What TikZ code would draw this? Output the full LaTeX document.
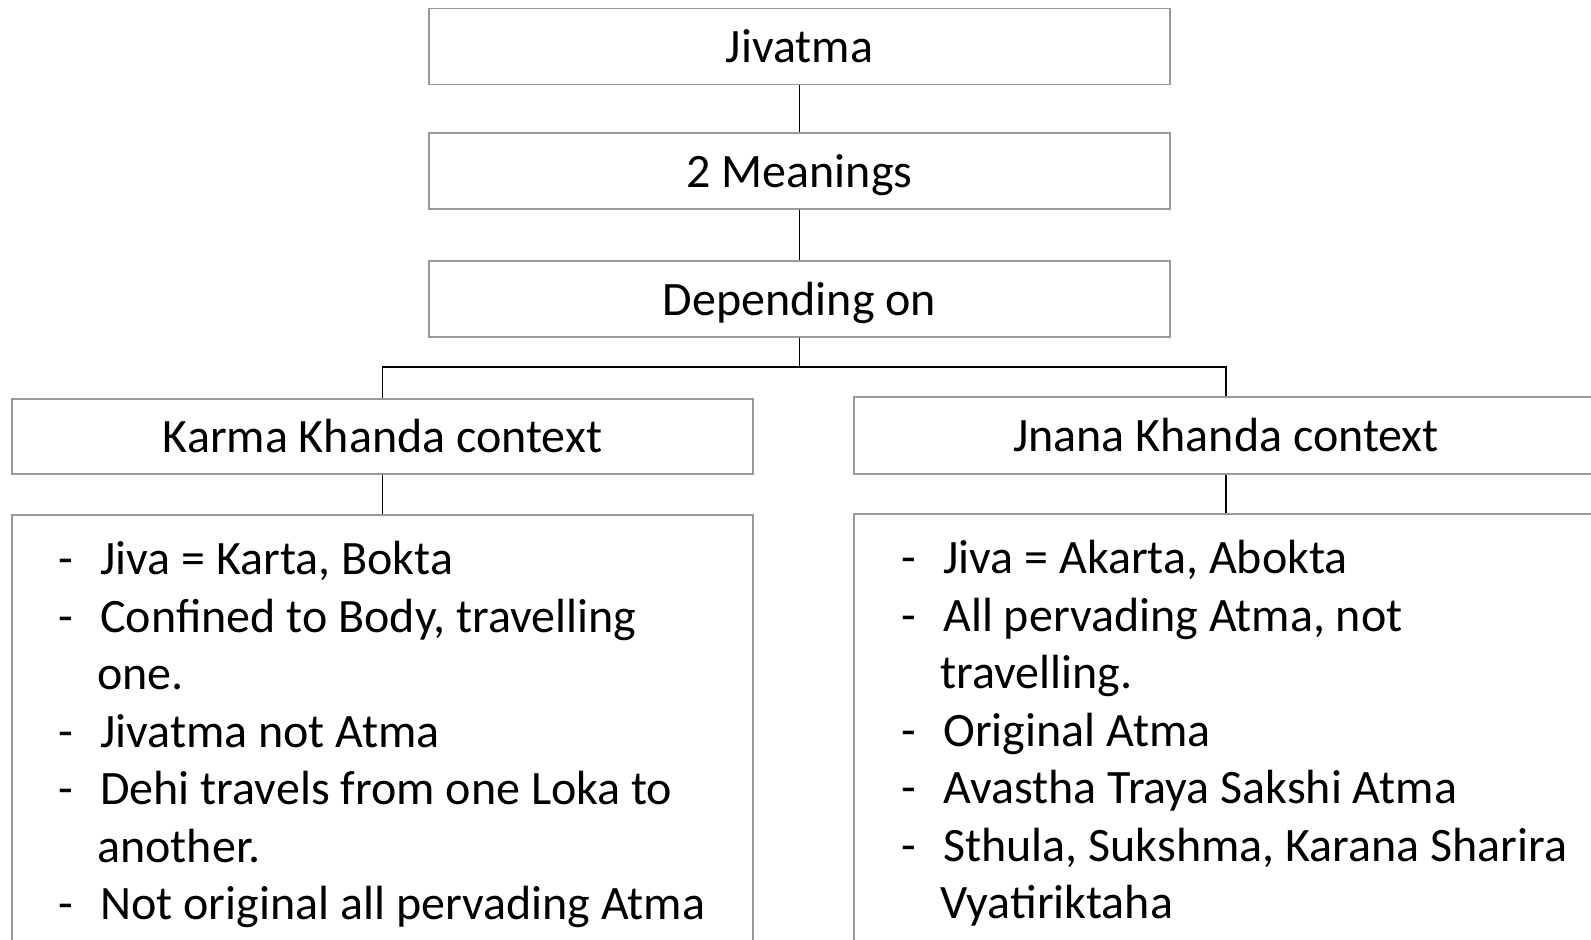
\documentclass[tikz,border=0pt]{standalone}
\usepackage{fontspec}
\setmainfont{Carlito}
\usetikzlibrary{positioning}
\newcommand{\slidefont}{\fontsize{24}{28.75}\selectfont}
\newcommand{\cont}{\hspace{-1.5pt}}

\begin{document}
\begin{tikzpicture}[x=0.5pt,y=-0.5pt,font=\slidefont,
  box/.style={draw=black!40,line width=0.6pt,minimum width=370.5pt,minimum height=38pt,inner sep=0pt,text height=21.5pt,text depth=5pt},
  listbox/.style={draw=black!40,line width=0.6pt,minimum height=222.5pt,inner sep=0pt},
  lst/.style={anchor=north west,inner sep=0pt,align=left},
  link/.style={draw=black,line width=0.65pt}]
\useasboundingbox (0,0) rectangle (1591,940);
\clip (0,0) rectangle (1591,940);
% --- title column ---
\node[box] (jiv) at (799.5,46.5) {Jivatma};
\node[box] (mng) at (799.5,171)  {2 Meanings};
\node[box] (dep) at (799.5,299)  {Depending on};
% --- the two contexts ---
\node[box,minimum height=37.5pt] (karma) at (382.5,436.5) {Karma Khanda context};
\node[box,minimum width=372pt,minimum height=38.5pt] (jnana) at (1226,435.5) {Jnana Khanda context};
% --- lists ---
\node[listbox,minimum width=370.5pt] (klist) at (382.5,737.5) {};
\node[listbox,minimum width=372pt] (jlist) at (1226,736.5) {};
\node[lst] (ktxt) at (58,534) {\begin{tabular}{@{}p{21pt}@{}l@{}}
-& Jiva = Karta, Bokta\\
-& Confined to Body, travelling\\
 & \cont one.\\
-& Jivatma not Atma\\
-& Dehi travels from one Loka to\\
 & \cont another.\\
-& Not original all pervading Atma
\end{tabular}};
\node[lst] (jtxt) at (901,533) {\begin{tabular}{@{}p{21pt}@{}l@{}}
-& Jiva = Akarta, Abokta\\
-& All pervading Atma, not\\
 & \cont travelling.\\
-& Original Atma\\
-& Avastha Traya Sakshi Atma\\
-& Sthula, Sukshma, Karana Sharira\\
 & \cont Vyatiriktaha
\end{tabular}};
% --- connectors ---
\coordinate (split) at (799.5,367);
\draw[link] (jiv.south) -- (mng.north);
\draw[link] (mng.south) -- (dep.north);
\draw[link] (dep.south) -- (split);
\draw[link] (split) -| (karma.north);
\draw[link] (split) -| (jnana.north);
\draw[link] (karma.south) -- (klist.north);
\draw[link] (jnana.south) -- (jlist.north);
\end{tikzpicture}
\end{document}
